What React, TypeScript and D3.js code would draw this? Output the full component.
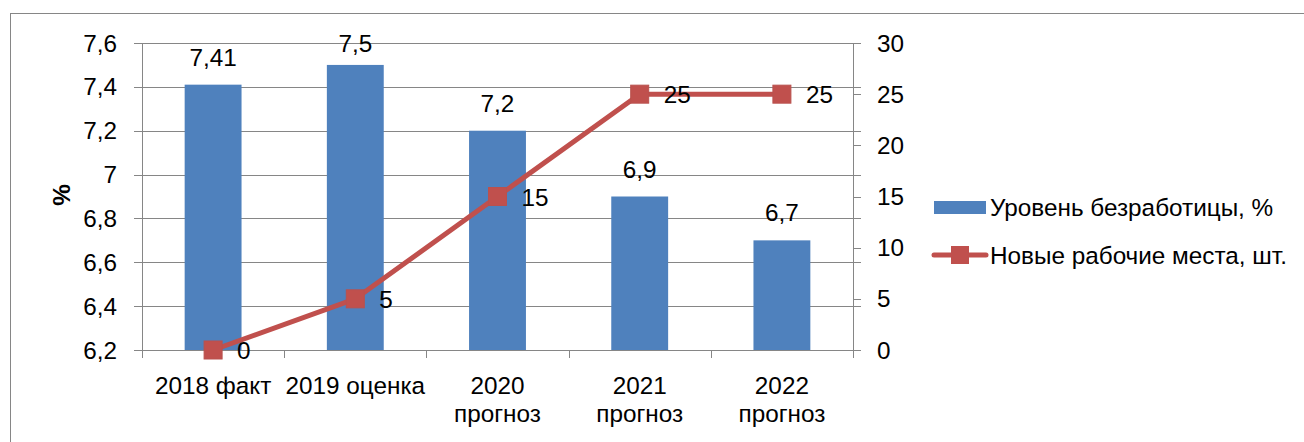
import React, { useEffect, useRef } from "react";
import * as d3 from "d3";

const categories: string[][] = [
  ["2018 факт"],
  ["2019 оценка"],
  ["2020", "прогноз"],
  ["2021", "прогноз"],
  ["2022", "прогноз"],
];
const unemployment: number[] = [7.41, 7.5, 7.2, 6.9, 6.7];
const unemploymentLabels: string[] = ["7,41", "7,5", "7,2", "6,9", "6,7"];
const newJobs: number[] = [0, 5, 15, 25, 25];
const leftTicks: number[] = [6.2, 6.4, 6.6, 6.8, 7, 7.2, 7.4, 7.6];
const rightTicks: number[] = [0, 5, 10, 15, 20, 25, 30];
const seriesNames: string[] = ["Уровень безработицы, %", "Новые рабочие места, шт."];
const leftAxisTitle = "%";

const W = 1304;
const H = 442;
const FONT = "'Liberation Sans', Arial, sans-serif";
const FS = 24.3;
const BLUE = "#4F81BD";
const RED = "#C0504D";
const GRID = "#868686";

export default function App() {
  const ref = useRef<SVGSVGElement | null>(null);
  useEffect(() => {
    const svg = d3.select(ref.current);
    svg.selectAll("*").remove();

    const left = 142, right = 853, top = 43, bottom = 350;
    const x = d3.scaleBand<number>().domain(d3.range(categories.length)).range([left, right]).paddingInner(0.6).paddingOuter(0.3);
    const xb = d3.scaleBand<number>().domain(d3.range(categories.length)).range([left, right]);
    const yL = d3.scaleLinear().domain([6.2, 7.6]).range([bottom, top]);
    const yR = d3.scaleLinear().domain([0, 30]).range([bottom, top]);

    // outer border
    svg.append("rect").attr("x", 10.5).attr("y", 13.5).attr("width", W + 20).attr("height", H + 20)
      .attr("fill", "white").attr("stroke", GRID).attr("stroke-width", 1);

    // gridlines
    svg.append("g").selectAll("line").data(leftTicks).join("line")
      .attr("x1", left - 8).attr("x2", right + 8)
      .attr("y1", (d) => Math.round(yL(d)) + 0.5).attr("y2", (d) => Math.round(yL(d)) + 0.5)
      .attr("stroke", GRID).attr("stroke-width", 1);

    // right axis ticks
    svg.append("g").selectAll("line").data(rightTicks).join("line")
      .attr("x1", right).attr("x2", right + 8)
      .attr("y1", (d) => Math.round(yR(d)) + 0.5).attr("y2", (d) => Math.round(yR(d)) + 0.5)
      .attr("stroke", GRID);

    // axis lines
    svg.append("line").attr("x1", left + 0.5).attr("x2", left + 0.5).attr("y1", top).attr("y2", bottom + 8).attr("stroke", GRID);
    svg.append("line").attr("x1", right + 0.5).attr("x2", right + 0.5).attr("y1", top).attr("y2", bottom + 8).attr("stroke", GRID);

    // category ticks
    const catEdges = d3.range(categories.length + 1).map((i) => (i < categories.length ? (xb(i) as number) : right));
    svg.append("g").selectAll("line").data(catEdges).join("line")
      .attr("x1", (d) => Math.round(d) + 0.5).attr("x2", (d) => Math.round(d) + 0.5)
      .attr("y1", bottom).attr("y2", bottom + 8).attr("stroke", GRID);

    // bars
    svg.append("g").selectAll("rect").data(unemployment).join("rect")
      .attr("x", (_, i) => x(i) as number).attr("width", x.bandwidth())
      .attr("y", (d) => yL(d)).attr("height", (d) => bottom - yL(d))
      .attr("fill", BLUE);

    // line
    const cx = (i: number) => (xb(i) as number) + xb.bandwidth() / 2;
    const line = d3.line<number>().x((_, i) => cx(i)).y((d) => yR(d));
    svg.append("path").datum(newJobs).attr("d", line).attr("fill", "none")
      .attr("stroke", RED).attr("stroke-width", 5).attr("stroke-linejoin", "round").attr("stroke-linecap", "round");
    svg.append("g").selectAll("rect").data(newJobs).join("rect")
      .attr("x", (_, i) => cx(i) - 9).attr("y", (d) => yR(d) - 9).attr("width", 18).attr("height", 18)
      .attr("fill", RED).attr("stroke", "#B9514E").attr("stroke-width", 1);

    const txt = (g: any) => g.attr("font-family", FONT).attr("font-size", FS).attr("fill", "#000");

    // bar labels
    svg.append("g").selectAll("text").data(unemployment).join("text")
      .call(txt)
      .attr("x", (_, i) => cx(i)).attr("y", (d) => Math.max(yL(d) - 19, 52))
      .attr("text-anchor", "middle")
      .text((_, i) => unemploymentLabels[i]);

    // line labels
    svg.append("g").selectAll("text").data(newJobs).join("text")
      .call(txt)
      .attr("x", (_, i) => cx(i) + 24).attr("y", (d) => yR(d) + 9)
      .text((d) => String(d));

    // left tick labels
    svg.append("g").selectAll("text").data(leftTicks).join("text")
      .call(txt)
      .attr("x", 117).attr("y", (d) => yL(d) + 8.5).attr("text-anchor", "end")
      .text((d) => String(d).replace(".", ","));

    // right tick labels
    svg.append("g").selectAll("text").data(rightTicks).join("text")
      .call(txt)
      .attr("x", 877).attr("y", (d) => yR(d) + 8.5)
      .text((d) => String(d));

    // category labels
    const cat = svg.append("g").selectAll("text").data(categories).join("text")
      .call(txt)
      .attr("text-anchor", "middle");
    cat.each(function (lines, i) {
      d3.select(this).selectAll("tspan").data(lines).join("tspan")
        .attr("x", cx(i)).attr("y", (_, j) => 394 + j * 28).text((t) => t);
    });

    // left axis title
    svg.append("text").call(txt).attr("font-weight", "bold")
      .attr("transform", `translate(70,195) rotate(-90)`).attr("text-anchor", "middle")
      .text(leftAxisTitle);

    // legend
    const lg = svg.append("g");
    lg.append("rect").attr("x", 934).attr("y", 201).attr("width", 52).attr("height", 13).attr("fill", BLUE);
    lg.append("text").call(txt).attr("x", 990).attr("y", 216).text(seriesNames[0]);
    lg.append("line").attr("x1", 934).attr("x2", 986).attr("y1", 255).attr("y2", 255)
      .attr("stroke", RED).attr("stroke-width", 5).attr("stroke-linecap", "round");
    lg.append("rect").attr("x", 951).attr("y", 246).attr("width", 18).attr("height", 18).attr("fill", RED);
    lg.append("text").call(txt).attr("x", 990).attr("y", 264).text(seriesNames[1]);
  }, []);

  return (
    <svg
      ref={ref}
      width={W}
      height={H}
      style={{ position: "absolute", left: 0, top: 0, background: "white" }}
    />
  );
}
